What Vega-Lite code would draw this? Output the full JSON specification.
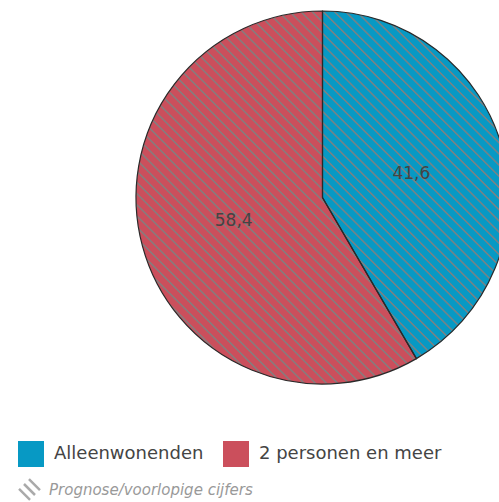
{
  "$schema": "https://vega.github.io/schema/vega-lite/v6.json",
  "width": 645,
  "height": 395,
  "autosize": {"type": "pad"},
  "padding": 0,
  "background": "white",
  "config": {"view": {"stroke": null}},
  "data": {"values": [
    {"category": "Alleenwonenden", "value": 41.6, "label": "41,6", "order": 1, "status": "Prognose/voorlopige cijfers"},
    {"category": "2 personen en meer", "value": 58.4, "label": "58,4", "order": 2, "status": "Prognose/voorlopige cijfers"}
  ]},
  "layer": [
    {
      "mark": {"type": "arc", "outerRadius": 186.5, "strokeWidth": 0},
      "encoding": {
        "theta": {"field": "value", "type": "quantitative", "stack": true},
        "order": {"field": "order", "type": "quantitative"},
        "color": {
          "field": "category", "type": "nominal",
          "scale": {"domain": ["Alleenwonenden", "2 personen en meer"], "range": ["#0799c4", "#cb4f5c"]},
          "legend": {
            "orient": "none", "legendX": 18, "legendY": 441, "direction": "horizontal", "title": null,
            "symbolType": "square", "symbolSize": 676, "symbolStrokeWidth": 0,
            "labelFontSize": 18, "labelFont": "DejaVu Sans", "labelColor": "#444444",
            "labelOffset": 10, "columnPadding": 19, "padding": 0, "labelLimit": 0
          }
        }
      }
    },
    {
      "transform": [{"aggregate": [{"op": "sum", "field": "value", "as": "total"}], "groupby": ["status"]}],
      "mark": {
        "type": "arc", "outerRadius": 186, "strokeWidth": 0,
        "fill": {"gradient": "linear", "x1": 0, "y1": 1, "x2": 1, "y2": 0, "stops": [
{"offset":0,"color":"#808080e6"},{"offset":0.0015,"color":"#808080e6"},{"offset":0.003,"color":"#80808000"},{"offset":0.0135,"color":"#80808000"},
{"offset":0.015,"color":"#808080e6"},{"offset":0.0165,"color":"#808080e6"},{"offset":0.018,"color":"#80808000"},{"offset":0.0285,"color":"#80808000"},
{"offset":0.03,"color":"#808080e6"},{"offset":0.0315,"color":"#808080e6"},{"offset":0.033,"color":"#80808000"},{"offset":0.0435,"color":"#80808000"},
{"offset":0.045,"color":"#808080e6"},{"offset":0.0465,"color":"#808080e6"},{"offset":0.048,"color":"#80808000"},{"offset":0.0585,"color":"#80808000"},
{"offset":0.06,"color":"#808080e6"},{"offset":0.0615,"color":"#808080e6"},{"offset":0.063,"color":"#80808000"},{"offset":0.0735,"color":"#80808000"},
{"offset":0.075,"color":"#808080e6"},{"offset":0.0765,"color":"#808080e6"},{"offset":0.078,"color":"#80808000"},{"offset":0.0885,"color":"#80808000"},
{"offset":0.09,"color":"#808080e6"},{"offset":0.0915,"color":"#808080e6"},{"offset":0.093,"color":"#80808000"},{"offset":0.1035,"color":"#80808000"},
{"offset":0.105,"color":"#808080e6"},{"offset":0.1065,"color":"#808080e6"},{"offset":0.108,"color":"#80808000"},{"offset":0.1185,"color":"#80808000"},
{"offset":0.12,"color":"#808080e6"},{"offset":0.1215,"color":"#808080e6"},{"offset":0.123,"color":"#80808000"},{"offset":0.1335,"color":"#80808000"},
{"offset":0.135,"color":"#808080e6"},{"offset":0.1365,"color":"#808080e6"},{"offset":0.138,"color":"#80808000"},{"offset":0.1485,"color":"#80808000"},
{"offset":0.15,"color":"#808080e6"},{"offset":0.1515,"color":"#808080e6"},{"offset":0.153,"color":"#80808000"},{"offset":0.1635,"color":"#80808000"},
{"offset":0.165,"color":"#808080e6"},{"offset":0.1665,"color":"#808080e6"},{"offset":0.168,"color":"#80808000"},{"offset":0.1785,"color":"#80808000"},
{"offset":0.18,"color":"#808080e6"},{"offset":0.1815,"color":"#808080e6"},{"offset":0.183,"color":"#80808000"},{"offset":0.1935,"color":"#80808000"},
{"offset":0.195,"color":"#808080e6"},{"offset":0.1965,"color":"#808080e6"},{"offset":0.198,"color":"#80808000"},{"offset":0.2085,"color":"#80808000"},
{"offset":0.21,"color":"#808080e6"},{"offset":0.2115,"color":"#808080e6"},{"offset":0.213,"color":"#80808000"},{"offset":0.2235,"color":"#80808000"},
{"offset":0.225,"color":"#808080e6"},{"offset":0.2265,"color":"#808080e6"},{"offset":0.228,"color":"#80808000"},{"offset":0.2385,"color":"#80808000"},
{"offset":0.24,"color":"#808080e6"},{"offset":0.2415,"color":"#808080e6"},{"offset":0.243,"color":"#80808000"},{"offset":0.2535,"color":"#80808000"},
{"offset":0.255,"color":"#808080e6"},{"offset":0.2565,"color":"#808080e6"},{"offset":0.258,"color":"#80808000"},{"offset":0.2685,"color":"#80808000"},
{"offset":0.27,"color":"#808080e6"},{"offset":0.2715,"color":"#808080e6"},{"offset":0.273,"color":"#80808000"},{"offset":0.2835,"color":"#80808000"},
{"offset":0.285,"color":"#808080e6"},{"offset":0.2865,"color":"#808080e6"},{"offset":0.288,"color":"#80808000"},{"offset":0.2985,"color":"#80808000"},
{"offset":0.3,"color":"#808080e6"},{"offset":0.3015,"color":"#808080e6"},{"offset":0.303,"color":"#80808000"},{"offset":0.3135,"color":"#80808000"},
{"offset":0.315,"color":"#808080e6"},{"offset":0.3165,"color":"#808080e6"},{"offset":0.318,"color":"#80808000"},{"offset":0.3285,"color":"#80808000"},
{"offset":0.33,"color":"#808080e6"},{"offset":0.3315,"color":"#808080e6"},{"offset":0.333,"color":"#80808000"},{"offset":0.3435,"color":"#80808000"},
{"offset":0.345,"color":"#808080e6"},{"offset":0.3465,"color":"#808080e6"},{"offset":0.348,"color":"#80808000"},{"offset":0.3585,"color":"#80808000"},
{"offset":0.36,"color":"#808080e6"},{"offset":0.3615,"color":"#808080e6"},{"offset":0.363,"color":"#80808000"},{"offset":0.3735,"color":"#80808000"},
{"offset":0.375,"color":"#808080e6"},{"offset":0.3765,"color":"#808080e6"},{"offset":0.378,"color":"#80808000"},{"offset":0.3885,"color":"#80808000"},
{"offset":0.39,"color":"#808080e6"},{"offset":0.3915,"color":"#808080e6"},{"offset":0.393,"color":"#80808000"},{"offset":0.4035,"color":"#80808000"},
{"offset":0.405,"color":"#808080e6"},{"offset":0.4065,"color":"#808080e6"},{"offset":0.408,"color":"#80808000"},{"offset":0.4185,"color":"#80808000"},
{"offset":0.42,"color":"#808080e6"},{"offset":0.4215,"color":"#808080e6"},{"offset":0.423,"color":"#80808000"},{"offset":0.4335,"color":"#80808000"},
{"offset":0.435,"color":"#808080e6"},{"offset":0.4365,"color":"#808080e6"},{"offset":0.438,"color":"#80808000"},{"offset":0.4485,"color":"#80808000"},
{"offset":0.45,"color":"#808080e6"},{"offset":0.4515,"color":"#808080e6"},{"offset":0.453,"color":"#80808000"},{"offset":0.4635,"color":"#80808000"},
{"offset":0.465,"color":"#808080e6"},{"offset":0.4665,"color":"#808080e6"},{"offset":0.468,"color":"#80808000"},{"offset":0.4785,"color":"#80808000"},
{"offset":0.48,"color":"#808080e6"},{"offset":0.4815,"color":"#808080e6"},{"offset":0.483,"color":"#80808000"},{"offset":0.4935,"color":"#80808000"},
{"offset":0.495,"color":"#808080e6"},{"offset":0.4965,"color":"#808080e6"},{"offset":0.498,"color":"#80808000"},{"offset":0.5085,"color":"#80808000"},
{"offset":0.51,"color":"#808080e6"},{"offset":0.5115,"color":"#808080e6"},{"offset":0.513,"color":"#80808000"},{"offset":0.5235,"color":"#80808000"},
{"offset":0.525,"color":"#808080e6"},{"offset":0.5265,"color":"#808080e6"},{"offset":0.528,"color":"#80808000"},{"offset":0.5385,"color":"#80808000"},
{"offset":0.54,"color":"#808080e6"},{"offset":0.5415,"color":"#808080e6"},{"offset":0.543,"color":"#80808000"},{"offset":0.5535,"color":"#80808000"},
{"offset":0.555,"color":"#808080e6"},{"offset":0.5565,"color":"#808080e6"},{"offset":0.558,"color":"#80808000"},{"offset":0.5685,"color":"#80808000"},
{"offset":0.57,"color":"#808080e6"},{"offset":0.5715,"color":"#808080e6"},{"offset":0.573,"color":"#80808000"},{"offset":0.5835,"color":"#80808000"},
{"offset":0.585,"color":"#808080e6"},{"offset":0.5865,"color":"#808080e6"},{"offset":0.588,"color":"#80808000"},{"offset":0.5985,"color":"#80808000"},
{"offset":0.6,"color":"#808080e6"},{"offset":0.6015,"color":"#808080e6"},{"offset":0.603,"color":"#80808000"},{"offset":0.6135,"color":"#80808000"},
{"offset":0.615,"color":"#808080e6"},{"offset":0.6165,"color":"#808080e6"},{"offset":0.618,"color":"#80808000"},{"offset":0.6285,"color":"#80808000"},
{"offset":0.63,"color":"#808080e6"},{"offset":0.6315,"color":"#808080e6"},{"offset":0.633,"color":"#80808000"},{"offset":0.6435,"color":"#80808000"},
{"offset":0.645,"color":"#808080e6"},{"offset":0.6465,"color":"#808080e6"},{"offset":0.648,"color":"#80808000"},{"offset":0.6585,"color":"#80808000"},
{"offset":0.66,"color":"#808080e6"},{"offset":0.6615,"color":"#808080e6"},{"offset":0.663,"color":"#80808000"},{"offset":0.6735,"color":"#80808000"},
{"offset":0.675,"color":"#808080e6"},{"offset":0.6765,"color":"#808080e6"},{"offset":0.678,"color":"#80808000"},{"offset":0.6885,"color":"#80808000"},
{"offset":0.69,"color":"#808080e6"},{"offset":0.6915,"color":"#808080e6"},{"offset":0.693,"color":"#80808000"},{"offset":0.7035,"color":"#80808000"},
{"offset":0.705,"color":"#808080e6"},{"offset":0.7065,"color":"#808080e6"},{"offset":0.708,"color":"#80808000"},{"offset":0.7185,"color":"#80808000"},
{"offset":0.72,"color":"#808080e6"},{"offset":0.7215,"color":"#808080e6"},{"offset":0.723,"color":"#80808000"},{"offset":0.7335,"color":"#80808000"},
{"offset":0.735,"color":"#808080e6"},{"offset":0.7365,"color":"#808080e6"},{"offset":0.738,"color":"#80808000"},{"offset":0.7485,"color":"#80808000"},
{"offset":0.75,"color":"#808080e6"},{"offset":0.7515,"color":"#808080e6"},{"offset":0.753,"color":"#80808000"},{"offset":0.7635,"color":"#80808000"},
{"offset":0.765,"color":"#808080e6"},{"offset":0.7665,"color":"#808080e6"},{"offset":0.768,"color":"#80808000"},{"offset":0.7785,"color":"#80808000"},
{"offset":0.78,"color":"#808080e6"},{"offset":0.7815,"color":"#808080e6"},{"offset":0.783,"color":"#80808000"},{"offset":0.7935,"color":"#80808000"},
{"offset":0.795,"color":"#808080e6"},{"offset":0.7965,"color":"#808080e6"},{"offset":0.798,"color":"#80808000"},{"offset":0.8085,"color":"#80808000"},
{"offset":0.81,"color":"#808080e6"},{"offset":0.8115,"color":"#808080e6"},{"offset":0.813,"color":"#80808000"},{"offset":0.8235,"color":"#80808000"},
{"offset":0.825,"color":"#808080e6"},{"offset":0.8265,"color":"#808080e6"},{"offset":0.828,"color":"#80808000"},{"offset":0.8385,"color":"#80808000"},
{"offset":0.84,"color":"#808080e6"},{"offset":0.8415,"color":"#808080e6"},{"offset":0.843,"color":"#80808000"},{"offset":0.8535,"color":"#80808000"},
{"offset":0.855,"color":"#808080e6"},{"offset":0.8565,"color":"#808080e6"},{"offset":0.858,"color":"#80808000"},{"offset":0.8685,"color":"#80808000"},
{"offset":0.87,"color":"#808080e6"},{"offset":0.8715,"color":"#808080e6"},{"offset":0.873,"color":"#80808000"},{"offset":0.8835,"color":"#80808000"},
{"offset":0.885,"color":"#808080e6"},{"offset":0.8865,"color":"#808080e6"},{"offset":0.888,"color":"#80808000"},{"offset":0.8985,"color":"#80808000"},
{"offset":0.9,"color":"#808080e6"},{"offset":0.9015,"color":"#808080e6"},{"offset":0.903,"color":"#80808000"},{"offset":0.9135,"color":"#80808000"},
{"offset":0.915,"color":"#808080e6"},{"offset":0.9165,"color":"#808080e6"},{"offset":0.918,"color":"#80808000"},{"offset":0.9285,"color":"#80808000"},
{"offset":0.93,"color":"#808080e6"},{"offset":0.9315,"color":"#808080e6"},{"offset":0.933,"color":"#80808000"},{"offset":0.9435,"color":"#80808000"},
{"offset":0.945,"color":"#808080e6"},{"offset":0.9465,"color":"#808080e6"},{"offset":0.948,"color":"#80808000"},{"offset":0.9585,"color":"#80808000"},
{"offset":0.96,"color":"#808080e6"},{"offset":0.9615,"color":"#808080e6"},{"offset":0.963,"color":"#80808000"},{"offset":0.9735,"color":"#80808000"},
{"offset":0.975,"color":"#808080e6"},{"offset":0.9765,"color":"#808080e6"},{"offset":0.978,"color":"#80808000"},{"offset":0.9885,"color":"#80808000"},
{"offset":0.99,"color":"#808080e6"},{"offset":0.9915,"color":"#808080e6"},{"offset":0.993,"color":"#80808000"},{"offset":1,"color":"#80808000"}
        ]}
      },
      "encoding": {
        "theta": {"field": "total", "type": "quantitative"},
        "stroke": {
          "field": "status", "type": "nominal",
          "scale": {"range": ["#aaaaaa"]},
          "legend": {
            "orient": "none", "legendX": 17, "legendY": 477, "title": null,
            "symbolType": "M-0.95,-0.05L0.05,0.95M-0.5,-0.5L0.5,0.5M-0.05,-0.95L0.95,0.05",
            "symbolSize": 484, "symbolStrokeWidth": 2.5, "symbolFillColor": "transparent",
            "labelFontSize": 15, "labelFontStyle": "italic", "labelFont": "DejaVu Sans", "labelColor": "#999999",
            "labelOffset": 7, "padding": 0, "labelLimit": 0,
            "encode": {"symbols": {"update": {"strokeWidth": {"value": 2.5}, "fill": {"value": "transparent"}, "stroke": {"value": "#aaaaaa"}}}}
          }
        }
      }
    },
    {
      "mark": {"type": "arc", "outerRadius": 186.5, "fill": "transparent", "stroke": "#2a2a2a", "strokeWidth": 1.2},
      "encoding": {
        "theta": {"field": "value", "type": "quantitative", "stack": true},
        "order": {"field": "order", "type": "quantitative"}
      }
    },
    {
      "mark": {"type": "text", "radius": 92, "fontSize": 17, "font": "DejaVu Sans", "fill": "#444444"},
      "encoding": {
        "theta": {"field": "value", "type": "quantitative", "stack": true},
        "order": {"field": "order", "type": "quantitative"},
        "text": {"field": "label", "type": "nominal"}
      }
    }
  ]
}
